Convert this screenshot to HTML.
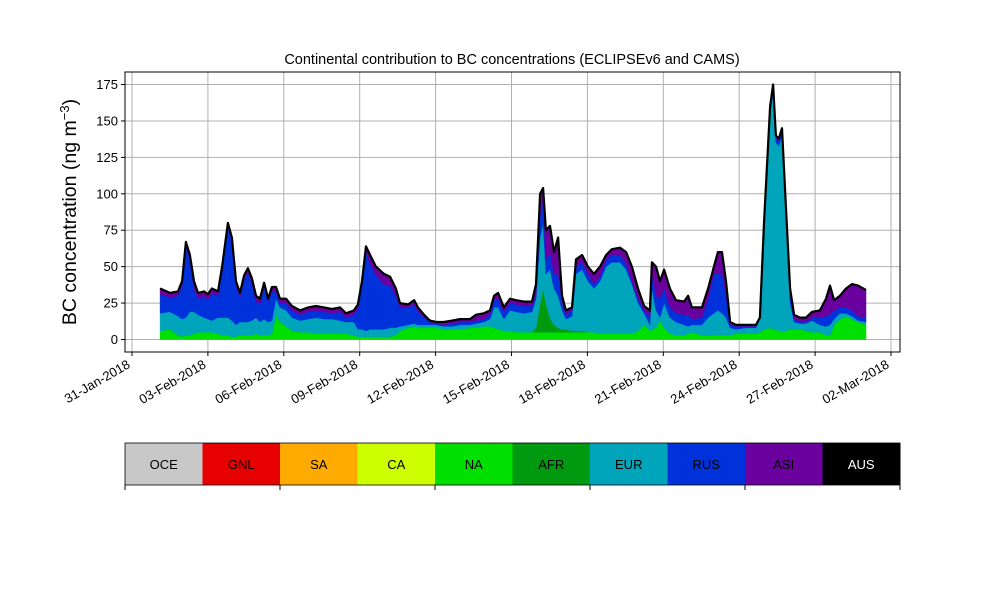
<!DOCTYPE html>
<html><head><meta charset="utf-8"><style>
body{margin:0;background:#fff;}
svg{display:block;font-family:"Liberation Sans","DejaVu Sans",sans-serif;}
</style></head><body>
<svg id="chart" width="1000" height="600" viewBox="0 0 1000 600" xmlns="http://www.w3.org/2000/svg">
<rect width="1000" height="600" fill="#fff"/>
<text x="512" y="64" text-anchor="middle" font-size="14.5">Continental contribution to BC concentrations (ECLIPSEv6 and CAMS)</text>
<text transform="translate(76,212) rotate(-90)" text-anchor="middle" font-size="19.5">BC concentration (ng m<tspan baseline-shift="super" font-size="13">−3</tspan>)</text>
<g id="grid"></g>
<g id="areas"></g>
<g id="axes"></g>
<g id="cbar"></g>
</svg>
<script>
// days since 31-Jan-2018
const days=[1.11,1.50,1.82,1.98,2.13,2.29,2.45,2.61,2.85,3.00,3.16,3.40,3.56,3.79,3.95,4.11,4.27,4.43,4.58,4.74,4.90,5.06,5.22,5.38,5.53,5.69,5.85,6.09,6.32,6.64,6.96,7.27,7.59,7.91,8.22,8.46,8.77,8.93,9.09,9.25,9.41,9.64,9.96,10.20,10.43,10.59,10.91,11.15,11.30,11.54,11.78,12.02,12.33,12.65,12.96,13.36,13.60,13.91,14.15,14.31,14.47,14.70,14.94,15.18,15.49,15.81,15.97,16.13,16.25,16.36,16.52,16.68,16.84,17.00,17.15,17.39,17.55,17.79,18.02,18.26,18.50,18.74,18.97,19.29,19.53,19.76,20.00,20.24,20.47,20.55,20.71,20.87,21.03,21.26,21.50,21.82,21.98,22.13,22.53,22.77,23.00,23.16,23.32,23.48,23.64,23.87,24.27,24.66,24.82,24.98,25.22,25.34,25.45,25.57,25.69,25.85,26.01,26.17,26.40,26.64,26.88,27.19,27.43,27.59,27.75,27.98,28.22,28.46,28.70,29.01];
const naVals=[6,7,3,2,3,3,4,5,5,5,5,4,3,3,2,2,3,3,3,3,4,3,3,3,4,17,12,9,6,5,5,4,4,4,4,4,3,2,2,2,2,2,2,2,3,6,8,9,8,8,8,8,7,7,7,8,8,9,9,8,7,6,6,5,5,5,5,5,5,5,5,5,5,5,5,5,5,5,5,5,4,4,4,4,4,4,6,10,6,7,8,13,8,4,3,3,4,5,3,3,3,3,3,3,3,4,4,4,5,7,8,7,7,6,6,6,7,7,7,6,5,5,3,3,10,14,16,14,12,10];
const afrVals=[0,0,0,0,0,0,0,0,0,0,0,0,0,0,0,0,0,0,0,0,0,0,0,0,0,0,0,0,0,0,0,0,0,0,0,0,0,0,0,0,0,0,0,0,0,0,0,0,0,0,0,0,0,0,0,0,0,0,0,0,0,0,0,0,0,0,3,20,30,20,10,5,3,2,2,1,1,1,0,0,0,0,0,0,0,0,0,0,0,0,0,0,0,0,0,0,0,0,0,0,0,0,0,0,0,0,0,0,0,0,0,0,0,0,0,0,0,0,0,0,0,0,0,0,0,0,0,0,0,0];
const eurVals=[12,12,13,12,12,16,15,12,10,9,8,11,12,12,11,8,9,9,9,10,11,9,11,9,9,11,10,11,9,8,9,11,10,10,9,8,9,5,5,4,5,5,5,6,5,3,2,2,2,2,2,2,2,2,3,2,3,3,5,14,15,8,14,14,13,14,20,45,45,20,33,25,22,13,7,10,39,42,35,30,36,46,49,49,44,34,19,8,4,28,12,2,17,11,9,7,5,5,7,12,15,17,15,12,5,3,4,4,9,71,147,163,128,127,134,79,18,5,4,5,8,5,6,7,4,4,2,2,1,2];
const rusVals=[13,10,14,23,49,35,16,11,15,13,19,15,32,62,55,27,17,29,34,25,11,12,23,14,20,5,3,5,5,4,5,5,5,4,6,3,5,14,30,54,45,37,31,29,22,13,12,13,9,5,2,1,1,2,2,2,2,2,3,5,6,5,5,5,5,4,2,15,15,10,12,10,15,5,3,4,5,5,5,3,3,5,5,5,4,2,3,2,5,10,10,13,10,7,6,7,8,4,5,13,27,25,27,15,2,2,1,1,0,1,3,3,3,3,3,3,5,2,1,1,2,5,7,7,6,4,4,4,3,3];
const asiVals=[4,3,3,3,3,4,5,4,3,4,3,3,3,3,2,3,3,3,3,4,4,4,2,2,3,3,3,3,3,3,3,3,3,3,3,3,3,3,3,4,6,6,7,6,5,3,2,3,3,2,1,1,2,2,2,2,4,4,3,3,4,3,3,3,3,3,8,15,9,20,18,15,25,5,3,2,5,5,5,7,7,3,4,5,8,10,7,3,5,8,20,12,13,13,9,9,13,8,7,7,5,15,15,10,2,1,1,1,1,1,2,2,2,2,2,2,5,3,3,3,4,5,12,20,7,8,13,18,21,19];
const seriesNames=["NA","AFR","EUR","RUS","ASI"];
const seriesColors=["#00e000","#009a10","#00a5bb","#0032dc","#6a009e"];
const yTicks=[0,25,50,75,100,125,150,175];
const xTickDays=[0,3,6,9,12,15,18,21,24,27,30];
const xTickLabels=["31-Jan-2018","03-Feb-2018","06-Feb-2018","09-Feb-2018","12-Feb-2018","15-Feb-2018","18-Feb-2018","21-Feb-2018","24-Feb-2018","27-Feb-2018","02-Mar-2018"];
const legendNames=["OCE","GNL","SA","CA","NA","AFR","EUR","RUS","ASI","AUS"];
const legendColors=["#c8c8c8","#e60000","#ffaa00","#ccff00","#00e000","#009a10","#00a5bb","#0032dc","#6a009e","#000000"];

const NS="http://www.w3.org/2000/svg";
const L=125,R=900,T=72,B=352;
const xs=d=>132+d*25.3;
const ys=v=>339.5-v*1.457;
function mk(tag,attrs,parent){const e=document.createElementNS(NS,tag);for(const k in attrs)e.setAttribute(k,attrs[k]);parent.appendChild(e);return e;}
const grid=document.getElementById('grid'),areas=document.getElementById('areas'),axes=document.getElementById('axes'),cbar=document.getElementById('cbar');

yTicks.forEach(v=>{
  const g=mk('line',{x1:L,x2:R,y1:ys(v),y2:ys(v),stroke:'#b0b0b0','stroke-width':1},grid);
  
  
  const t=mk('line',{x1:L-4,x2:L,y1:ys(v),y2:ys(v),stroke:'#000'},axes);
  
  
  const lb=mk('text',{x:L-7,y:ys(v)+4.5,'text-anchor':'end','font-size':13},axes);
  lb.textContent=v;
  
  
});
xTickDays.forEach((d,i)=>{
  const x=xs(d);
  const g=mk('line',{x1:x,x2:x,y1:T,y2:B,stroke:'#b0b0b0','stroke-width':1},grid);
  
  
  const t=mk('line',{x1:x,x2:x,y1:B,y2:B+4,stroke:'#000'},axes);
  
  
  const lb=mk('text',{'text-anchor':'end','font-size':13,transform:`translate(${x-1},${B+15}) rotate(-30)`},axes);
  lb.textContent=xTickLabels[i];
  
  
});

const layers=[naVals,afrVals,eurVals,rusVals,asiVals];
let base=days.map(()=>0);
layers.forEach((vals,li)=>{
  const top=base.map((b,i)=>b+vals[i]);
  let d='M'+days.map((t,i)=>xs(t).toFixed(1)+','+ys(top[i]).toFixed(1)).join('L');
  for(let i=days.length-1;i>=0;i--)d+='L'+xs(days[i]).toFixed(1)+','+ys(base[i]).toFixed(1);
  d+='Z';
  const p=mk('path',{d:d,fill:seriesColors[li],stroke:seriesColors[li],'stroke-width':0.5},areas);
  
  
  base=top;
});
const tl=mk('path',{d:'M'+days.map((t,i)=>xs(t).toFixed(1)+','+ys(base[i]).toFixed(1)).join('L'),fill:'none',stroke:'#000','stroke-width':2.2,'stroke-linejoin':'round'},areas);



const fr=mk('rect',{x:L,y:T,width:R-L,height:B-T,fill:'none',stroke:'#000','stroke-width':1},axes);



const cw=(R-L)/legendNames.length;
legendNames.forEach((n,i)=>{
  const r=mk('rect',{x:L+i*cw,y:443,width:cw+0.5,height:42,fill:legendColors[i]},cbar);
  
  
  const t=mk('text',{x:L+i*cw+cw/2,y:469,'text-anchor':'middle','font-size':13,fill:(n==='AUS'?'#fff':'#000')},cbar);
  t.textContent=n;
  
  
});
const cf=mk('rect',{x:L,y:443,width:R-L,height:42,fill:'none',stroke:'#000','stroke-width':0.8},cbar);


for(let k=0;k<=5;k++){
  const x=L+k*(R-L)/5;
  const tk=mk('line',{x1:x,x2:x,y1:485,y2:490,stroke:'#000'},cbar);
  
  
}
</script>
</body></html>
